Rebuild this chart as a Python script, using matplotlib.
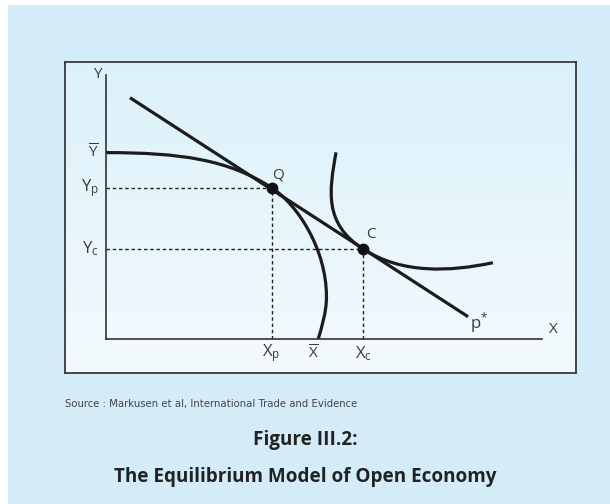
import numpy as np
import matplotlib
matplotlib.use('Agg')
import matplotlib.pyplot as plt
from matplotlib.path import Path
from matplotlib.patches import PathPatch, Rectangle

# chart values (axis units 0..10)
y_bar = 7.06
y_p = 5.73
y_c = 3.41
x_p = 3.80
x_bar = 4.75
x_c = 5.90

# price line p*
line_x = [0.55, 8.31]
line_y = [9.14, 0.845]

# production possibility frontier (cubic bezier vertices)
ppf_x = [0.0, 1.7, 2.81, 3.80, 4.40, 5.06, 5.06, 5.06, 4.95, 4.87]
ppf_y = [7.06, 7.06, 6.80, 5.73, 5.09, 3.40, 1.60, 1.00, 0.45, 0.0]

# indifference curve (cubic bezier vertices)
ic_x = [5.28, 5.12, 5.00, 5.90, 6.80, 7.90, 8.88]
ic_y = [7.07, 5.60, 4.37, 3.41, 2.45, 2.55, 2.89]

W, H = 610, 504
plt.rcParams['font.family'] = ['Open Sans', 'DejaVu Sans']
plt.rcParams['mathtext.fontset'] = 'custom'
plt.rcParams['mathtext.rm'] = 'Open Sans'
plt.rcParams['mathtext.it'] = 'Open Sans'

fig = plt.figure(figsize=(W / 100, H / 100), dpi=100)
fig.patch.set_facecolor('white')


def fx(px):
    return px / W


def fy(py):
    return 1 - py / H


# blue panel
fig.add_artist(Rectangle((fx(8), 0), 1 - fx(8), fy(5), transform=fig.transFigure,
                         facecolor='#d4ebf8', edgecolor='none', zorder=0))

# framed box with soft gradient
bg = fig.add_axes([fx(65), fy(373), fx(576) - fx(65), fy(62) - fy(373)])
grad = np.linspace(0, 1, 256).reshape(-1, 1)
top = np.array([0.86, 0.945, 0.98])
bot = np.array([0.955, 0.98, 0.995])
img = top + (bot - top) * grad[:, :, None]
bg.imshow(img, aspect='auto', extent=[0, 1, 0, 1], origin='upper')
bg.set_xticks([])
bg.set_yticks([])
for s in bg.spines.values():
    s.set_color('#3a3a3a')
    s.set_linewidth(1.3)

ax = fig.add_axes([fx(106), fy(339), fx(541.7) - fx(106), fy(75) - fy(339)])
ax.set_facecolor('none')
ax.set_xlim(0, 10)
ax.set_ylim(0, 10)
for s in ['top', 'right']:
    ax.spines[s].set_visible(False)
for s in ['left', 'bottom']:
    ax.spines[s].set_color('#333333')
    ax.spines[s].set_linewidth(1.2)
ax.set_xticks([])
ax.set_yticks([])

curve_col = '#1c1c1c'
ppf = Path(np.column_stack([ppf_x, ppf_y]), [Path.MOVETO] + [Path.CURVE4] * (len(ppf_x) - 1))
ax.add_patch(PathPatch(ppf, facecolor='none', edgecolor=curve_col, lw=2.3, capstyle='butt'))
ic = Path(np.column_stack([ic_x, ic_y]), [Path.MOVETO] + [Path.CURVE4] * (len(ic_x) - 1))
ax.add_patch(PathPatch(ic, facecolor='none', edgecolor=curve_col, lw=2.3, capstyle='butt'))
ax.plot(line_x, line_y, color=curve_col, lw=2.3, solid_capstyle='butt')

dash = (0, (2.5, 2))
ax.plot([0, x_p], [y_p, y_p], color='#222222', lw=1, linestyle=dash)
ax.plot([x_p, x_p], [0, y_p], color='#222222', lw=1, linestyle=dash)
ax.plot([0, x_c], [y_c, y_c], color='#222222', lw=1, linestyle=dash)
ax.plot([x_c, x_c], [0, y_c], color='#222222', lw=1, linestyle=dash)
ax.plot([x_p, x_c], [y_p, y_c], 'o', color='#111111', ms=7.5, zorder=5)

tc = '#3a3a3a'
fs = 11
kw = dict(color=tc, fontsize=fs, clip_on=False)
skw = dict(color=tc, fontsize=12, clip_on=False)
ax.text(-0.2, 10.0, 'Y', ha='center', va='center', **kw)
ax.text(10.26, 0.37, 'X', ha='center', va='center', **kw)
ax.text(-0.16, y_bar, r'$\overline{\mathrm{Y}}$', ha='right', va='center', **kw)
ax.text(-0.16, y_p, r'$\mathrm{Y}_{\mathrm{p}}$', ha='right', va='center', **skw)
ax.text(-0.16, y_c, r'$\mathrm{Y}_{\mathrm{c}}$', ha='right', va='center', **skw)
ax.text(x_p, -0.55, r'$\mathrm{X}_{\mathrm{p}}$', ha='center', va='center', **skw)
ax.text(x_bar, -0.55, r'$\overline{\mathrm{X}}$', ha='center', va='center', **kw)
ax.text(x_c, -0.55, r'$\mathrm{X}_{\mathrm{c}}$', ha='center', va='center', **skw)
ax.text(3.95, 6.21, 'Q', ha='center', va='center', **kw)
ax.text(6.07, 3.97, 'C', ha='center', va='center', **kw)
ax.text(8.36, 0.62, r'$\mathrm{p}^{*}$', ha='left', va='center', **skw)

fig.text(fx(65), fy(404), 'Source : Markusen et al, International Trade and Evidence',
         ha='left', va='center', fontsize=7.3, color='#444444',
         family=['Liberation Sans Narrow', 'DejaVu Sans'])
tkw = dict(ha='center', va='center', fontsize=13.6, fontweight='bold', color='#222222')
fig.text(0.5, fy(440), 'Figure III.2:', **tkw)
fig.text(0.5, fy(477), 'The Equilibrium Model of Open Economy', **tkw)

fig.savefig('out.png', dpi=100)
